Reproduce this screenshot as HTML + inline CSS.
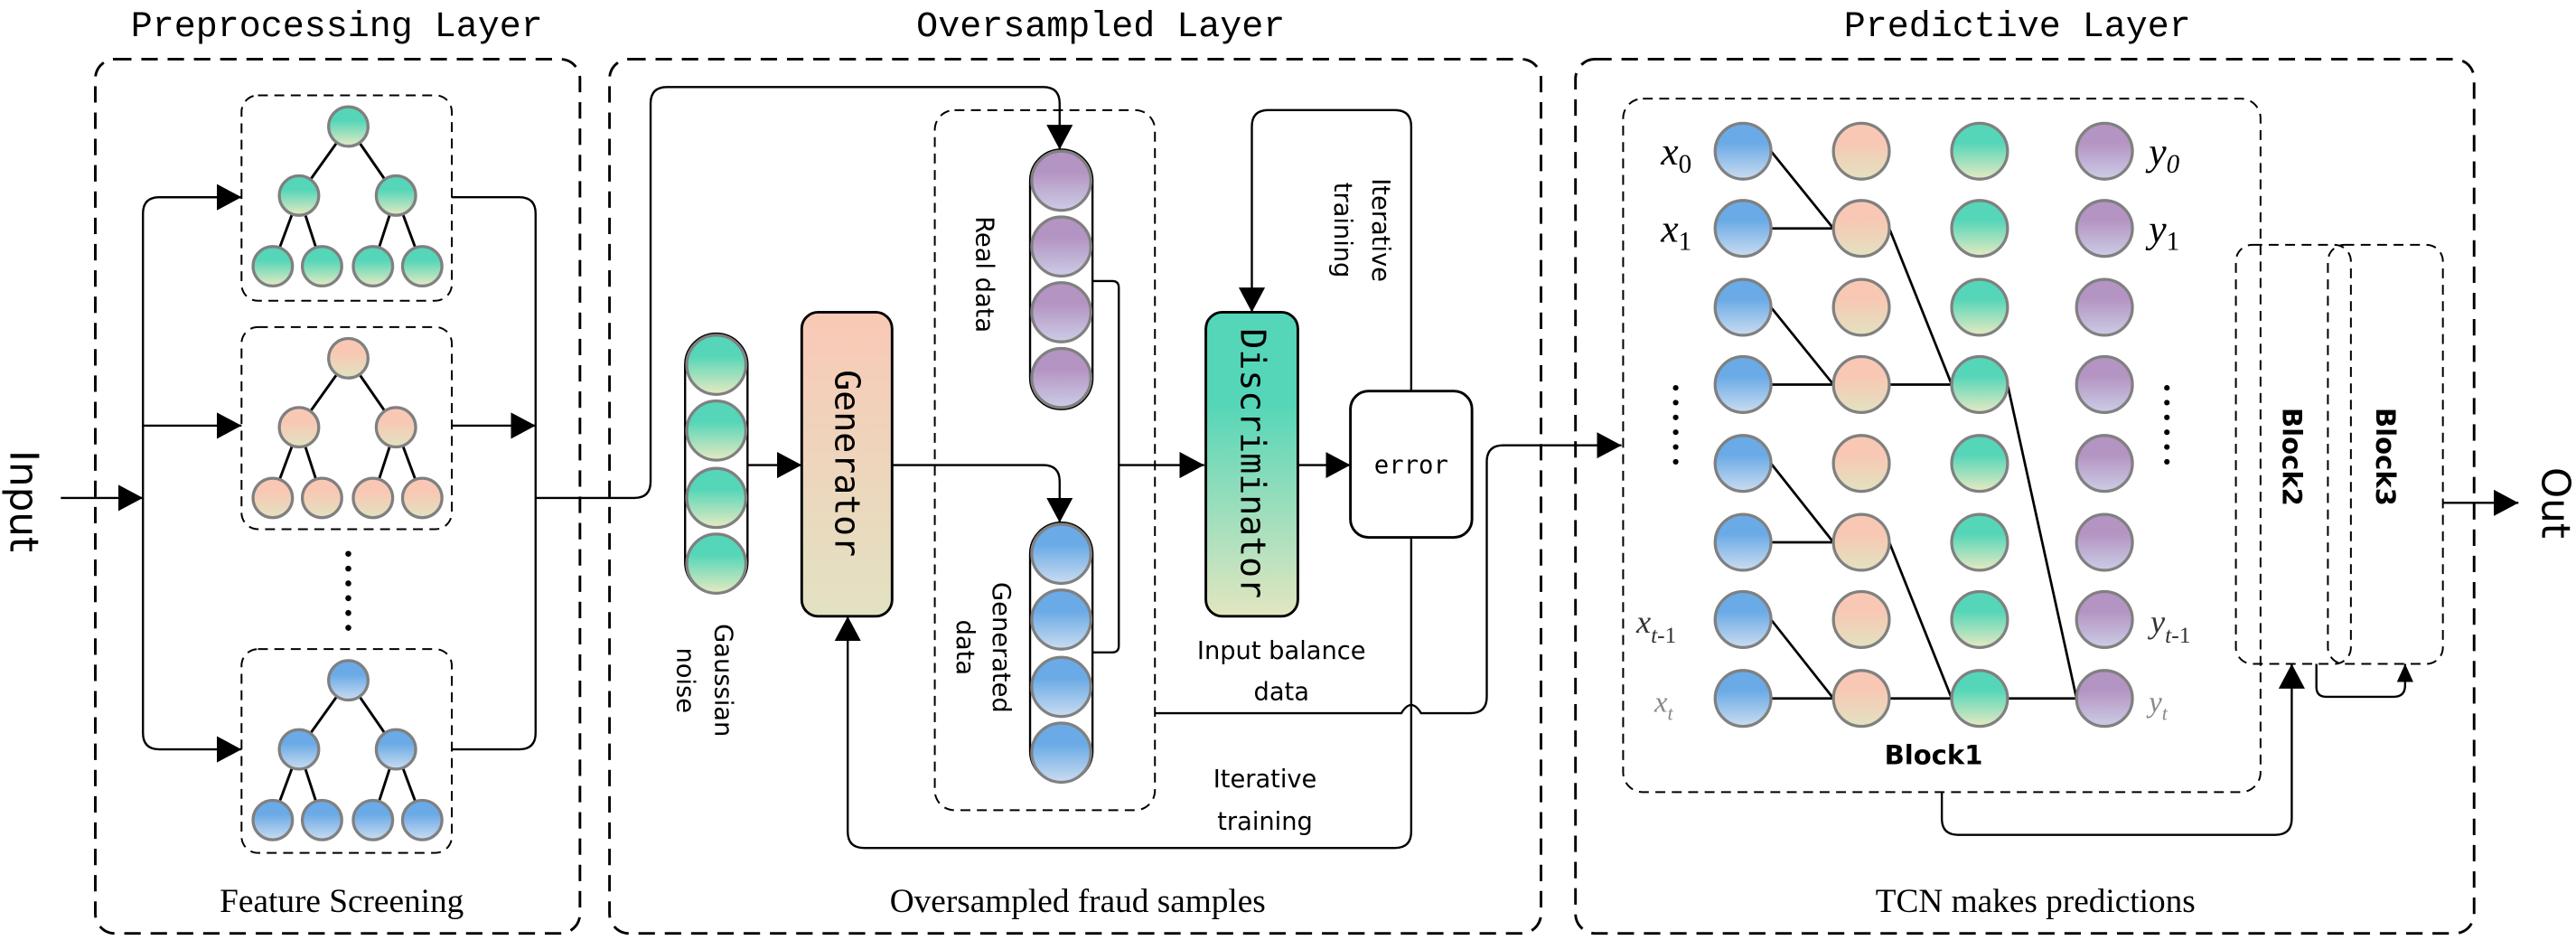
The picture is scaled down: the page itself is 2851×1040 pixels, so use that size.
<!DOCTYPE html>
<html><head><meta charset="utf-8"><style>
html,body{margin:0;padding:0;background:#fff;}
svg{display:block;}
</style></head><body>
<svg width="2851" height="1040" viewBox="0 0 1568 572" xmlns="http://www.w3.org/2000/svg" font-family="Liberation Sans, sans-serif">
<defs>
<linearGradient id="gT" x1="0" y1="0" x2="0" y2="1"><stop offset="0.35" stop-color="#55d6b8"/><stop offset="1" stop-color="#e6eac2"/></linearGradient>
<linearGradient id="gS" x1="0" y1="0" x2="0" y2="1"><stop offset="0.35" stop-color="#f8c8b4"/><stop offset="1" stop-color="#e2e2c0"/></linearGradient>
<linearGradient id="gB" x1="0" y1="0" x2="0" y2="1"><stop offset="0.35" stop-color="#6aaae6"/><stop offset="1" stop-color="#cadcf0"/></linearGradient>
<linearGradient id="gP" x1="0" y1="0" x2="0" y2="1"><stop offset="0.35" stop-color="#b494c2"/><stop offset="1" stop-color="#cccce6"/></linearGradient>
<linearGradient id="gGen" x1="0" y1="0" x2="0" y2="1"><stop offset="0" stop-color="#f9c9b6"/><stop offset="1" stop-color="#e2e2c2"/></linearGradient>
<linearGradient id="gDis" x1="0" y1="0" x2="0" y2="1"><stop offset="0.3" stop-color="#55d6b8"/><stop offset="1" stop-color="#e2e6c0"/></linearGradient>
<marker id="ar" markerUnits="userSpaceOnUse" markerWidth="16" markerHeight="16" refX="15" refY="8" orient="auto"><path d="M0,0 L15,8 L0,16 z" fill="#000"/></marker>
<marker id="as" markerUnits="userSpaceOnUse" markerWidth="12" markerHeight="12" refX="11" refY="5" orient="auto"><path d="M0,0 L11,5 L0,10 z" fill="#000"/></marker>
</defs>

<!-- Titles -->
<g font-family="Liberation Mono, monospace" font-size="22" fill="#000" text-anchor="middle">
<text x="205" y="22">Preprocessing Layer</text>
<text x="670" y="22">Oversampled Layer</text>
<text x="1228" y="22">Predictive Layer</text>
</g>

<!-- Outer boxes -->
<g fill="none" stroke="#000" stroke-width="1.6" stroke-dasharray="10,6">
<rect x="58" y="36" width="295" height="532" rx="12"/>
<rect x="371" y="36" width="567" height="532" rx="12"/>
<rect x="959" y="36" width="547" height="532" rx="12"/>
</g>
<g font-family="Liberation Serif, serif" font-size="20.5" text-anchor="middle" fill="#000">
<text x="208" y="555">Feature Screening</text>
<text x="656" y="555">Oversampled fraud samples</text>
<text x="1239" y="555">TCN makes predictions</text>
</g>

<!-- Input -->
<text transform="translate(14,305) rotate(90)" font-family="DejaVu Sans, sans-serif" font-size="24" text-anchor="middle" dominant-baseline="central">Input</text>
<line x1="37" y1="303" x2="87" y2="303" stroke="#000" stroke-width="1.3" marker-end="url(#ar)"/>

<!-- preprocessing connectors -->
<g fill="none" stroke="#000" stroke-width="1.3">
<path d="M147,120 H97 Q87,120 87,130 V446 Q87,456 97,456 H147" marker-end="url(#ar)"/>
<path d="M97,120 H147" marker-end="url(#ar)"/>
<path d="M87,259 H147" marker-end="url(#ar)"/>
<path d="M275,120 H316 Q326,120 326,130 V446 Q326,456 316,456 H275"/>
<path d="M275,259 H326" marker-end="url(#ar)"/>
<path d="M326,303 H386 Q396,303 396,293 V63 Q396,53 406,53 H635 Q645,53 645,63 V91" marker-end="url(#ar)"/>
</g>

<!-- tree boxes -->
<g fill="none" stroke="#000" stroke-width="1.1" stroke-dasharray="6,4">
<rect x="147" y="58" width="128" height="125" rx="10"/>
<rect x="147" y="199" width="128" height="123" rx="10"/>
<rect x="147" y="395" width="128" height="124" rx="10"/>
</g>
<g fill="#000"><circle cx="212" cy="337" r="1.8"/><circle cx="212" cy="346" r="1.8"/><circle cx="212" cy="355" r="1.8"/><circle cx="212" cy="364" r="1.8"/><circle cx="212" cy="373" r="1.8"/><circle cx="212" cy="382" r="1.8"/></g>

<!-- Trees -->
<g stroke="#000" stroke-width="1.6">
<line x1="212" y1="77" x2="182" y2="119"/><line x1="212" y1="77" x2="241" y2="119"/>
<line x1="182" y1="119" x2="166" y2="162"/><line x1="182" y1="119" x2="196" y2="162"/>
<line x1="241" y1="119" x2="227" y2="162"/><line x1="241" y1="119" x2="257" y2="162"/>
</g>
<g fill="url(#gT)" stroke="#808080" stroke-width="1.8">
<circle cx="212" cy="77" r="12"/><circle cx="182" cy="119" r="12"/><circle cx="241" cy="119" r="12"/>
<circle cx="166" cy="162" r="12"/><circle cx="196" cy="162" r="12"/><circle cx="227" cy="162" r="12"/><circle cx="257" cy="162" r="12"/>
</g>
<g transform="translate(0,141)">
<g stroke="#000" stroke-width="1.6">
<line x1="212" y1="77" x2="182" y2="119"/><line x1="212" y1="77" x2="241" y2="119"/>
<line x1="182" y1="119" x2="166" y2="162"/><line x1="182" y1="119" x2="196" y2="162"/>
<line x1="241" y1="119" x2="227" y2="162"/><line x1="241" y1="119" x2="257" y2="162"/>
</g>
<g fill="url(#gS)" stroke="#808080" stroke-width="1.8">
<circle cx="212" cy="77" r="12"/><circle cx="182" cy="119" r="12"/><circle cx="241" cy="119" r="12"/>
<circle cx="166" cy="162" r="12"/><circle cx="196" cy="162" r="12"/><circle cx="227" cy="162" r="12"/><circle cx="257" cy="162" r="12"/>
</g></g>
<g transform="translate(0,337)">
<g stroke="#000" stroke-width="1.6">
<line x1="212" y1="77" x2="182" y2="119"/><line x1="212" y1="77" x2="241" y2="119"/>
<line x1="182" y1="119" x2="166" y2="162"/><line x1="182" y1="119" x2="196" y2="162"/>
<line x1="241" y1="119" x2="227" y2="162"/><line x1="241" y1="119" x2="257" y2="162"/>
</g>
<g fill="url(#gB)" stroke="#808080" stroke-width="1.8">
<circle cx="212" cy="77" r="12"/><circle cx="182" cy="119" r="12"/><circle cx="241" cy="119" r="12"/>
<circle cx="166" cy="162" r="12"/><circle cx="196" cy="162" r="12"/><circle cx="227" cy="162" r="12"/><circle cx="257" cy="162" r="12"/>
</g></g>

<!-- Oversampled layer -->
<rect x="569" y="67" width="134" height="426" rx="12" fill="none" stroke="#000" stroke-width="1.1" stroke-dasharray="6,4"/>

<g fill="none" stroke="#000" stroke-width="1.3">
<path d="M455,283 H488" marker-end="url(#ar)"/>
<path d="M543,283 H635 Q645,283 645,293 V318" marker-end="url(#ar)"/>
<path d="M665,171 H677 Q681,171 681,175 V393 Q681,397 677,397 H665"/>
<path d="M681,283 H733" marker-end="url(#ar)"/>
<path d="M790,283 H822" marker-end="url(#ar)"/>
<path d="M859,238 V77 Q859,67 849,67 H772 Q762,67 762,77 V190" marker-end="url(#ar)"/>
<path d="M859,327 V506 Q859,516 849,516 H526 Q516,516 516,506 V375" marker-end="url(#ar)"/>
<path d="M703,434 H853 Q859,424 865,434 H895 Q905,434 905,424 V281 Q905,271 915,271 H987" marker-end="url(#ar)"/>
</g>

<!-- Gaussian noise column -->
<rect x="417" y="203" width="38" height="158" rx="19" fill="#fff" stroke="#000" stroke-width="1.3"/>
<g fill="url(#gT)" stroke="#808080" stroke-width="1.8">
<circle cx="436" cy="222" r="18"/><circle cx="436" cy="262" r="18"/><circle cx="436" cy="303" r="18"/><circle cx="436" cy="343" r="18"/>
</g>
<!-- Real data column -->
<rect x="627" y="91" width="38" height="158" rx="19" fill="#fff" stroke="#000" stroke-width="1.3"/>
<g fill="url(#gP)" stroke="#808080" stroke-width="1.8">
<circle cx="646" cy="110" r="18"/><circle cx="646" cy="150" r="18"/><circle cx="646" cy="190" r="18"/><circle cx="646" cy="230" r="18"/>
</g>
<!-- Generated data column -->
<rect x="627" y="318" width="38" height="158" rx="19" fill="#fff" stroke="#000" stroke-width="1.3"/>
<g fill="url(#gB)" stroke="#808080" stroke-width="1.8">
<circle cx="646" cy="337" r="18"/><circle cx="646" cy="377" r="18"/><circle cx="646" cy="418" r="18"/><circle cx="646" cy="458" r="18"/>
</g>

<!-- Generator / Discriminator / error -->
<rect x="488" y="190" width="55" height="185" rx="10" fill="url(#gGen)" stroke="#000" stroke-width="1.6"/>
<text transform="translate(515,282) rotate(90)" font-family="DejaVu Sans Mono, monospace" font-size="21" text-anchor="middle" dominant-baseline="central">Generator</text>
<rect x="734" y="190" width="56" height="185" rx="10" fill="url(#gDis)" stroke="#000" stroke-width="1.6"/>
<text transform="translate(762,282) rotate(90)" font-family="DejaVu Sans Mono, monospace" font-size="21" text-anchor="middle" dominant-baseline="central">Discriminator</text>
<rect x="822" y="238" width="74" height="89" rx="11" fill="#fff" stroke="#000" stroke-width="1.6"/>
<text x="859" y="288" font-family="DejaVu Sans Mono, monospace" font-size="15" text-anchor="middle">error</text>

<g font-size="15" fill="#000" text-anchor="middle" font-family="DejaVu Sans, sans-serif">
<text transform="translate(599,167) rotate(90)" dominant-baseline="central">Real data</text>
<text transform="translate(609,394) rotate(90)" dominant-baseline="central">Generated</text>
<text transform="translate(587,394) rotate(90)" dominant-baseline="central">data</text>
<text transform="translate(440,414) rotate(90)" dominant-baseline="central">Gaussian</text>
<text transform="translate(417,414) rotate(90)" dominant-baseline="central">noise</text>
<text transform="translate(840,140) rotate(90)" dominant-baseline="central">Iterative</text>
<text transform="translate(817,140) rotate(90)" dominant-baseline="central">training</text>
<text x="780" y="401">Input balance</text>
<text x="780" y="426">data</text>
<text x="770" y="479">Iterative</text>
<text x="770" y="505">training</text>
</g>

<!-- Predictive layer -->
<rect x="988" y="60" width="388" height="422" rx="12" fill="none" stroke="#000" stroke-width="1.1" stroke-dasharray="6,4"/>
<rect x="1361" y="149" width="70" height="255" rx="10" fill="none" stroke="#000" stroke-width="1.1" stroke-dasharray="6,4"/>
<rect x="1417" y="149" width="70" height="255" rx="10" fill="none" stroke="#000" stroke-width="1.1" stroke-dasharray="6,4"/>
<text transform="translate(1395,278) rotate(90)" font-family="DejaVu Sans, sans-serif" font-weight="bold" font-size="16" text-anchor="middle" dominant-baseline="central">Block2</text>
<text transform="translate(1452,278) rotate(90)" font-family="DejaVu Sans, sans-serif" font-weight="bold" font-size="16" text-anchor="middle" dominant-baseline="central">Block3</text>
<text x="1177" y="465" font-family="DejaVu Sans, sans-serif" font-weight="bold" font-size="16" text-anchor="middle">Block1</text>

<g fill="none" stroke="#000" stroke-width="1.3">
<path d="M1182,482 V498 Q1182,508 1192,508 H1385 Q1395,508 1395,498 V404" marker-end="url(#ar)"/>
<path d="M1410,404 V418 Q1410,424 1416,424 H1457 Q1464,424 1464,417 V404" marker-end="url(#as)"/>
<path d="M1487,306 H1533" marker-end="url(#ar)"/>
</g>
<text transform="translate(1555,306) rotate(90)" font-family="DejaVu Sans, sans-serif" font-size="24" text-anchor="middle" dominant-baseline="central">Out</text>

<!-- TCN edges -->
<g stroke="#000" stroke-width="1.5">
<line x1="1078" y1="92" x2="1116" y2="139"/><line x1="1078" y1="139" x2="1116" y2="139"/>
<line x1="1078" y1="187" x2="1116" y2="234"/><line x1="1078" y1="234" x2="1116" y2="234"/>
<line x1="1078" y1="282" x2="1116" y2="330"/><line x1="1078" y1="330" x2="1116" y2="330"/>
<line x1="1078" y1="377" x2="1116" y2="425"/><line x1="1078" y1="425" x2="1116" y2="425"/>
<line x1="1150" y1="139" x2="1188" y2="234"/><line x1="1150" y1="234" x2="1188" y2="234"/>
<line x1="1150" y1="330" x2="1188" y2="425"/><line x1="1150" y1="425" x2="1188" y2="425"/>
<line x1="1222" y1="234" x2="1264" y2="425"/><line x1="1222" y1="425" x2="1264" y2="425"/>
</g>
<g stroke="#808080" stroke-width="1.8">
<g fill="url(#gB)">
<circle cx="1061" cy="92" r="17"/><circle cx="1061" cy="139" r="17"/><circle cx="1061" cy="187" r="17"/><circle cx="1061" cy="234" r="17"/>
<circle cx="1061" cy="282" r="17"/><circle cx="1061" cy="330" r="17"/><circle cx="1061" cy="377" r="17"/><circle cx="1061" cy="425" r="17"/>
</g>
<g fill="url(#gS)">
<circle cx="1133" cy="92" r="17"/><circle cx="1133" cy="139" r="17"/><circle cx="1133" cy="187" r="17"/><circle cx="1133" cy="234" r="17"/>
<circle cx="1133" cy="282" r="17"/><circle cx="1133" cy="330" r="17"/><circle cx="1133" cy="377" r="17"/><circle cx="1133" cy="425" r="17"/>
</g>
<g fill="url(#gT)">
<circle cx="1205" cy="92" r="17"/><circle cx="1205" cy="139" r="17"/><circle cx="1205" cy="187" r="17"/><circle cx="1205" cy="234" r="17"/>
<circle cx="1205" cy="282" r="17"/><circle cx="1205" cy="330" r="17"/><circle cx="1205" cy="377" r="17"/><circle cx="1205" cy="425" r="17"/>
</g>
<g fill="url(#gP)">
<circle cx="1281" cy="92" r="17"/><circle cx="1281" cy="139" r="17"/><circle cx="1281" cy="187" r="17"/><circle cx="1281" cy="234" r="17"/>
<circle cx="1281" cy="282" r="17"/><circle cx="1281" cy="330" r="17"/><circle cx="1281" cy="377" r="17"/><circle cx="1281" cy="425" r="17"/>
</g>
</g>

<!-- TCN labels -->
<g font-family="Liberation Serif, serif" font-style="italic" fill="#000">
<text x="1011" y="100" font-size="24">x<tspan font-size="16" font-style="normal" dy="5">0</tspan></text>
<text x="1011" y="147" font-size="24">x<tspan font-size="16" font-style="normal" dy="5">1</tspan></text>
<text x="1308" y="100" font-size="24">y<tspan font-size="16" dy="5">0</tspan></text>
<text x="1308" y="147" font-size="24">y<tspan font-size="16" font-style="normal" dy="5">1</tspan></text>
<text x="996" y="385" font-size="20" fill="#333">x<tspan font-size="14" dy="6">t</tspan><tspan font-size="14" font-style="normal">-1</tspan></text>
<text x="1309" y="385" font-size="20" fill="#333">y<tspan font-size="14" dy="6">t</tspan><tspan font-size="14" font-style="normal">-1</tspan></text>
<text x="1007" y="433" font-size="18" fill="#888">x<tspan font-size="12" dy="5">t</tspan></text>
<text x="1308" y="433" font-size="18" fill="#888">y<tspan font-size="12" dy="5">t</tspan></text>
</g>
<g fill="#000">
<circle cx="1020" cy="236" r="1.7"/><circle cx="1020" cy="245" r="1.7"/><circle cx="1020" cy="254" r="1.7"/><circle cx="1020" cy="263" r="1.7"/><circle cx="1020" cy="272" r="1.7"/><circle cx="1020" cy="281" r="1.7"/>
<circle cx="1319" cy="236" r="1.7"/><circle cx="1319" cy="245" r="1.7"/><circle cx="1319" cy="254" r="1.7"/><circle cx="1319" cy="263" r="1.7"/><circle cx="1319" cy="272" r="1.7"/><circle cx="1319" cy="281" r="1.7"/>
</g>
</svg>
</body></html>
